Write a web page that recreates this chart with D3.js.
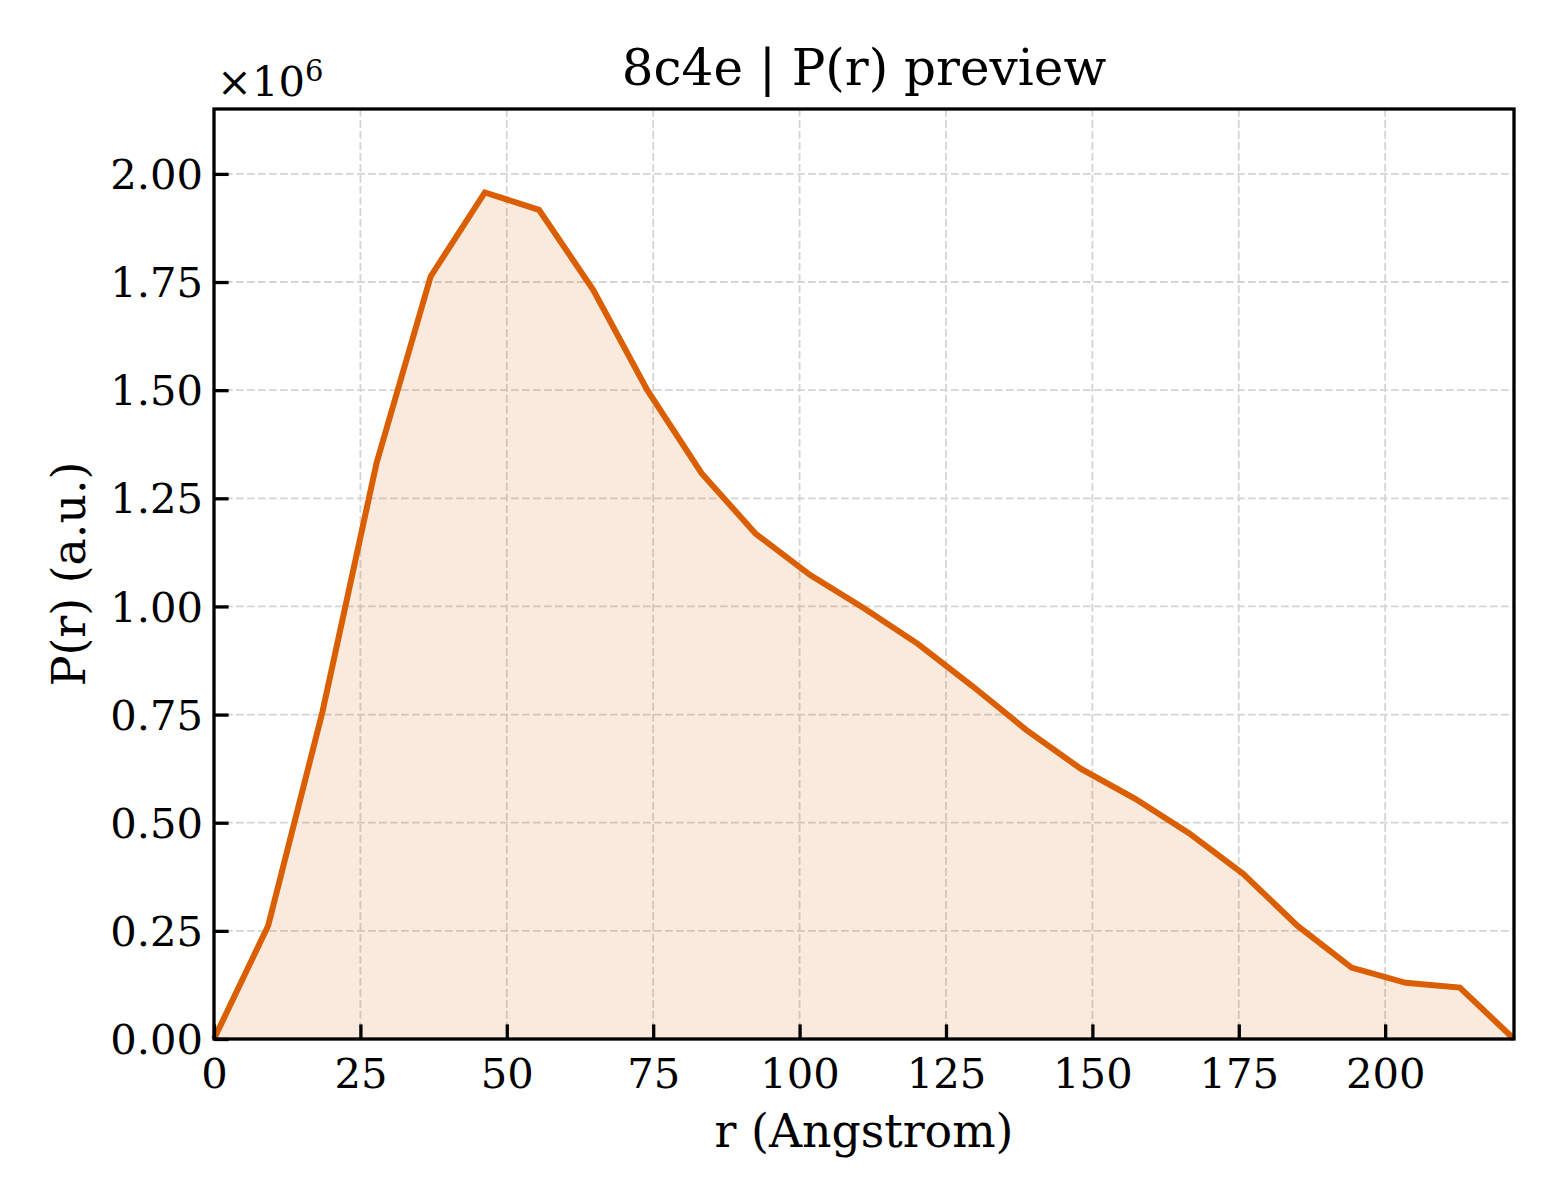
<!DOCTYPE html>
<html>
<head>
<meta charset="utf-8">
<script src="https://cdn.jsdelivr.net/npm/d3@7"></script>
<style>
  body { margin: 0; background: #ffffff; }
  svg { display: block; font-family: "DejaVu Serif", serif; }
</style>
</head>
<body>
<svg id="chart_svg" width="1560" height="1200"></svg>
<script>
// P(r) samples (r in Angstrom, P in units of 1e6)
const rValues = [0, 9.25, 18.5, 27.75, 37, 46.25, 55.5, 64.75, 74, 83.25, 92.5, 101.75,
  111, 120.25, 129.5, 138.75, 148, 157.25, 166.5, 175.75, 185, 194.25, 203.5, 212.75, 222];
const prValues = [0, 0.262, 0.755, 1.331, 1.763, 1.957, 1.917, 1.732, 1.50, 1.308, 1.168, 1.073,
  0.996, 0.913, 0.816, 0.714, 0.625, 0.556, 0.476, 0.382, 0.262, 0.165, 0.130, 0.119, 0];
const xTicks = [0, 25, 50, 75, 100, 125, 150, 175, 200];
const yTicks = [0, 0.25, 0.5, 0.75, 1.0, 1.25, 1.5, 1.75, 2.0];

const data = rValues.map((r, i) => ({ r: r, p: prValues[i] }));

const margin = { top: 109, bottom: 161, left: 214, right: 46 };
const svg = d3.select("#chart_svg");
const width = +svg.attr("width");
const height = +svg.attr("height");
const innerW = width - margin.left - margin.right;
const innerH = height - margin.top - margin.bottom;

const xScale = d3.scaleLinear().domain([0, 222]).range([0, innerW]);
const yScale = d3.scaleLinear().domain([0, 2.15]).range([innerH, 0]);

const g = svg.append("g")
  .attr("transform", "translate(" + margin.left + "," + margin.top + ")");

// grid
const gridColor = "#d4d4d4";
g.append("g").selectAll("line").data(xTicks).join("line")
  .attr("x1", d => xScale(d)).attr("x2", d => xScale(d))
  .attr("y1", 0).attr("y2", innerH)
  .attr("stroke", gridColor).attr("stroke-width", 1.8)
  .attr("stroke-dasharray", "7.7,3.3");
g.append("g").selectAll("line").data(yTicks).join("line")
  .attr("x1", 0).attr("x2", innerW)
  .attr("y1", d => yScale(d)).attr("y2", d => yScale(d))
  .attr("stroke", gridColor).attr("stroke-width", 1.8)
  .attr("stroke-dasharray", "7.7,3.3");

// filled area + line
const area = d3.area().x(d => xScale(d.r)).y0(yScale(0)).y1(d => yScale(d.p));
const line = d3.line().x(d => xScale(d.r)).y(d => yScale(d.p));

g.append("path").datum(data)
  .attr("d", area)
  .attr("fill", "#d95f02")
  .attr("fill-opacity", 0.13);

g.append("path").datum(data)
  .attr("d", line)
  .attr("fill", "none")
  .attr("stroke", "#d95f02")
  .attr("stroke-width", 6)
  .attr("stroke-linejoin", "miter");

// axes (ticks point inward)
const xAxis = d3.axisBottom(xScale).tickValues(xTicks)
  .tickSize(-14.6).tickPadding(22).tickFormat(d3.format("d"));
const yAxis = d3.axisLeft(yScale).tickValues(yTicks)
  .tickSize(-14.6).tickPadding(22).tickFormat(d3.format(".2f"));

const gx = g.append("g").attr("transform", "translate(0," + innerH + ")").call(xAxis);
const gy = g.append("g").call(yAxis);

[gx, gy].forEach(a => {
  a.select(".domain").remove();
  a.selectAll(".tick line").attr("stroke", "#000").attr("stroke-width", 3.3);
  a.selectAll(".tick text")
    .attr("fill", "#000")
    .style("font-family", "DejaVu Serif")
    .style("font-size", "41.7px");
});
gx.selectAll(".tick text").attr("dy", null).attr("y", 49);
gy.selectAll(".tick text").attr("dy", "0.35em").attr("x", -11);

// frame
g.append("rect")
  .attr("x", 0).attr("y", 0)
  .attr("width", innerW).attr("height", innerH)
  .attr("fill", "none").attr("stroke", "#000").attr("stroke-width", 3.3);

// offset label
const offset = svg.append("text")
  .attr("x", 217).attr("y", 96)
  .style("font-size", "41.7px").attr("fill", "#000");
offset.append("tspan").text("\u00d710");
offset.append("tspan").attr("dy", -15).style("font-size", "29px").text("6");

// title
svg.append("text")
  .attr("x", margin.left + innerW / 2).attr("y", 85)
  .attr("text-anchor", "middle")
  .style("font-size", "50px").attr("fill", "#000")
  .text("8c4e | P(r) preview");

// axis labels
svg.append("text")
  .attr("x", margin.left + innerW / 2).attr("y", 1147)
  .attr("text-anchor", "middle")
  .style("font-size", "45.8px").attr("fill", "#000")
  .text("r (Angstrom)");

svg.append("text")
  .attr("transform", "translate(85," + (margin.top + innerH / 2) + ") rotate(-90)")
  .attr("text-anchor", "middle")
  .style("font-size", "45.8px").attr("fill", "#000")
  .text("P(r) (a.u.)");
</script>
</body>
</html>
